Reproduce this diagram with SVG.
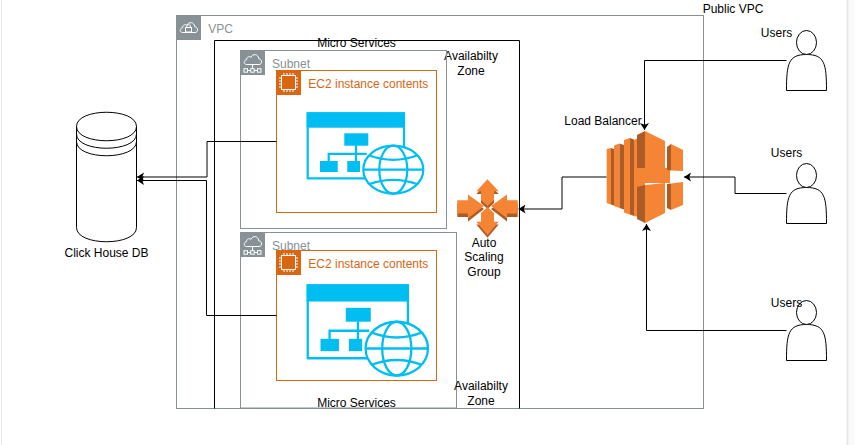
<svg xmlns="http://www.w3.org/2000/svg" xmlns:xlink="http://www.w3.org/1999/xlink" width="855" height="445" viewBox="0 0 855 445">
<style>
text{font-family:"Liberation Sans",Arial,sans-serif;font-size:12px;fill:#000}
.m{text-anchor:middle}
.g{fill:#879196}
.o{fill:#D86613}
.box{fill:none;stroke:#879196;stroke-width:1}
.hdr{fill:#879196}
.ico{fill:none;stroke:#fff;stroke-width:1}
.ec{fill:none;stroke:#D86613;stroke-width:1}
.line{fill:none;stroke:#000;stroke-width:1}
.shape{fill:#fff;stroke:#000;stroke-width:1}
.f{fill:#F58534}
.d{fill:#AD5C26}
.c{fill:#00BEF2}
.cs{fill:none;stroke:#00BEF2;stroke-width:2.2}
</style>
<defs>
<marker id="arrow" markerUnits="userSpaceOnUse" markerWidth="8" markerHeight="10" refX="7" refY="5" orient="auto">
<path d="M0 0.500 L7 5 L0 9.500 L1.700 5 Z" fill="#000"/>
</marker>
<g id="webapp">
<path class="cs" d="M1 67V1H97.300V40M1 66H62"/>
<rect class="c" x="0" y="0" width="98.300" height="15.400"/>
<rect class="c" x="37.600" y="21" width="24" height="12.400"/>
<rect class="c" x="13.300" y="48.700" width="17.700" height="11"/>
<rect class="c" x="40.600" y="48.700" width="12.700" height="11"/>
<path class="cs" d="M49.300 33V49M22 49V41.500H60"/>
<ellipse cx="86.600" cy="57.400" rx="30" ry="24" fill="#fff" stroke="#00BEF2" stroke-width="2.200"/>
<ellipse cx="86.600" cy="57.400" rx="14" ry="24" class="cs"/>
<path class="cs" d="M56.600 57.400H116.600M62 43Q86.600 52 111 43M62 72Q86.600 63 111 72"/>
</g>
<g id="chip">
<rect x="5.500" y="5.500" width="14" height="14" class="ico"/>
<path class="ico" stroke-width="0.8" d="M8 3V5.500M11 3V5.500M14 3V5.500M17 3V5.500M8 19.500V22M11 19.500V22M14 19.500V22M17 19.500V22M3 8H5.500M3 11H5.500M3 14H5.500M3 17H5.500M19.500 8H22M19.500 11H22M19.500 14H22M19.500 17H22"/>
</g>
<g id="actorShape">
<path d="M0 60C0 33 2 24 20 24C38 24 40 33 40 60Z"/>
<ellipse cx="20" cy="12" rx="10" ry="12"/>
</g>
<path id="cloud" d="M6.500 17.500C3.500 17.500 3.500 13 6.500 12.800C6.500 9.500 10 9 11 10.500C12.500 6 18.500 7 18.800 11.800C22.500 12 22.500 17.500 19 17.500Z"/>
<g id="subnetIcon">
<use xlink:href="#cloud" href="#cloud" x="0" y="-3" class="ico"/>
<path class="ico" d="M12.500 14.500V18.500M7.500 20.500H10.700M14.300 20.500H17.500"/>
<rect x="4" y="18.700" width="3.500" height="3.500" class="ico"/>
<rect x="10.700" y="18.700" width="3.500" height="3.500" class="ico"/>
<rect x="17.500" y="18.700" width="3.500" height="3.500" class="ico"/>
</g>
</defs>

<rect id="page-edge-right" x="849" y="0" width="6" height="445" fill="#FAFAFA"/>
<path d="M847.500 0V445" stroke="#E6E6E6" stroke-width="2"/>
<path d="M1.500 0V445" stroke="#E6E6E6" stroke-width="1"/>

<g id="vpc">
<rect class="box" x="176.500" y="15.500" width="527" height="393"/>
<rect class="hdr" x="176" y="15" width="25" height="25"/>
<use xlink:href="#cloud" href="#cloud" x="176" y="15" class="ico"/>
<rect x="185.500" y="27.500" width="6" height="4.500" class="ico"/>
<path class="ico" d="M186.800 27.500V26C186.800 24 190.200 24 190.200 26V27.500"/>
<text class="g" x="208.300" y="33">VPC</text>
</g>

<g id="micro-services">
<path class="line" d="M214.500 408.500V40.500H519.500V408.500"/>
<text class="m" x="356.500" y="47">Micro Services</text>
</g>

<g id="availability-zone-1">
<text class="m" x="471" y="60">Availabilty</text>
<text class="m" x="471" y="75">Zone</text>
</g>

<g id="subnet-1">
<rect class="box" x="240.500" y="50.500" width="206" height="178"/>
<rect class="hdr" x="240" y="50" width="25" height="25"/>
<use xlink:href="#subnetIcon" href="#subnetIcon" x="240" y="50"/>
<text class="g" x="272" y="68">Subnet</text>
</g>

<g id="ec2-1">
<rect class="ec" x="276.500" y="70.500" width="160" height="142"/>
<rect x="276" y="70" width="25" height="25" fill="#D86613"/>
<use xlink:href="#chip" href="#chip" x="276" y="70"/>
<text class="o" x="308.300" y="88">EC2 instance contents</text>
<use xlink:href="#webapp" href="#webapp" transform="translate(306.700 112.300)"/>
</g>

<g id="subnet-2">
<rect class="box" x="240.500" y="232.500" width="216" height="175.500"/>
<rect class="hdr" x="240" y="232" width="25" height="25"/>
<use xlink:href="#subnetIcon" href="#subnetIcon" x="240" y="232"/>
<text class="g" x="272" y="250">Subnet</text>
</g>

<g id="ec2-2">
<rect class="ec" x="276.500" y="250.500" width="160" height="130"/>
<rect x="276" y="250" width="25" height="25" fill="#D86613"/>
<use xlink:href="#chip" href="#chip" x="276" y="250"/>
<text class="o" x="308.300" y="268">EC2 instance contents</text>
<use xlink:href="#webapp" href="#webapp" transform="translate(306.700 284.300) scale(1.04 1.12)"/>
</g>

<g id="micro-services-label">
<text class="m" x="356.500" y="407">Micro Services</text>
</g>

<g id="availability-zone-2">
<text class="m" x="481" y="390">Availabilty</text>
<text class="m" x="481" y="405">Zone</text>
</g>

<g id="click-house-db">
<path class="shape" d="M76.500 126.500C76.500 107.500 136.500 107.500 136.500 126.500V227.500C136.500 246.500 76.500 246.500 76.500 227.500Z"/>
<path class="line" d="M76.500 126.500C76.500 145.500 136.500 145.500 136.500 126.500M76.500 134C76.500 153 136.500 153 136.500 134M76.500 141.500C76.500 160.500 136.500 160.500 136.500 141.500"/>
<text class="m" x="106.500" y="257">Click House DB</text>
</g>

<g id="auto-scaling-group">
<path class="d" d="M457.300 203.500H468V197.500L484 209L468 221.500V217H457.300Z"/>
<path class="d" d="M517.700 203.500H507V197.500L491 209L507 221.500V217H517.700Z"/>
<path class="d" d="M487.500 182L498.700 194H494V203L487.500 209L481 203V194H476.300Z"/>
<path class="d" d="M487.500 208L494 214V224.500H498.700L487.500 237.700L476.300 224.500H481V214Z"/>
<path class="f" d="M457.300 200.300H468V194.500L484 206L468 218.300V213.500H457.300Z"/>
<path class="f" d="M517.700 200.300H507V194.500L491 206L507 218.300V213.500H517.700Z"/>
<path class="f" d="M487.500 179.300L498.700 191.300H494V200L487.500 206L481 200V191.300H476.300Z"/>
<path class="f" d="M487.500 207L494 213V221.700H498.700L487.500 235L476.300 221.700H481V213Z"/>
<text class="m" x="484" y="247">Auto</text>
<text class="m" x="484" y="261">Scaling</text>
<text class="m" x="484" y="276">Group</text>
</g>

<g id="load-balancer">
<path class="f" d="M606.700 149L611 148V204.500L606.700 203Z"/>
<path class="d" d="M611 148L614 149V205.500L611 204.500Z"/>
<path class="f" d="M614 145.500L619.500 143.500V208L614 206Z"/>
<path class="d" d="M619.500 143.500L624 145V209.500L619.500 208Z"/>
<path class="f" d="M624 140L630 138V214.500L624 212.500Z"/>
<path class="d" d="M630 138L634 139.500V216L630 214.500Z"/>
<path class="f" d="M634 140L645 135V218L634 216Z"/>
<path class="f" d="M634 168H670V183H634Z"/>
<path class="d" d="M637 135L645 131V168L637 168ZM637 187L645 185V223L637 219Z"/>
<path class="f" d="M645 131L665 141V168L670 168.500V183L665 183V213L645 223V185L665 183H645V168Z"/>
<path class="d" d="M667 147L671 144V170.500L667 170ZM667 184L671 183.500V210L667 208Z"/>
<path class="f" d="M671 144L683 150V171L671 170.500ZM671 183.500L683 182V205L671 210Z"/>
<text class="m" x="603" y="125">Load Balancer</text>
</g>

<g id="users-1">
<use xlink:href="#actorShape" href="#actorShape" x="786.500" y="30.500" class="shape"/>
<text class="m" x="776.500" y="37">Users</text>
</g>
<g id="users-2">
<use xlink:href="#actorShape" href="#actorShape" x="786.500" y="163.500" class="shape"/>
<text class="m" x="786.500" y="157">Users</text>
</g>
<g id="users-3">
<use xlink:href="#actorShape" href="#actorShape" x="786.500" y="300.500" class="shape"/>
<text class="m" x="786.500" y="307">Users</text>
</g>

<g id="public-vpc-label">
<text class="m" x="733" y="13">Public VPC</text>
</g>

<g id="connectors">
<path class="line" marker-end="url(#arrow)" d="M276.500 141.500H207V177H137"/>
<path class="line" marker-end="url(#arrow)" d="M276.500 315.500H206.500V180.500H137"/>
<path class="line" marker-end="url(#arrow)" d="M606.500 177H562V209H518.500"/>
<path class="line" marker-end="url(#arrow)" d="M786.500 60.500H644.500V130"/>
<path class="line" marker-end="url(#arrow)" d="M786.500 193.500H735V177H684"/>
<path class="line" marker-end="url(#arrow)" d="M786.500 330.500H646.500V224"/>
</g>
</svg>
